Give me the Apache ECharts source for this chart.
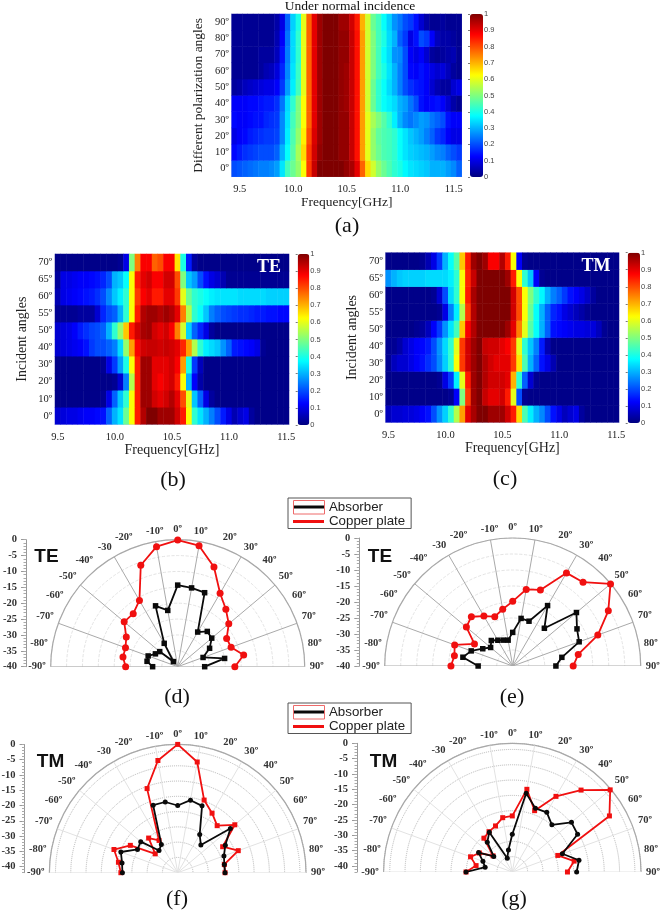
<!DOCTYPE html>
<html><head><meta charset="utf-8">
<style>html,body{margin:0;padding:0;background:#fff}#c{width:660px;height:914px;filter:blur(.45px)}</style>
<script src="https://cdn.jsdelivr.net/npm/echarts@6/dist/echarts.min.js"></script>
</head><body><div id="c"></div>
<script>
// ---------- heat map axes ----------
const freqA=['9.45','9.5','9.55','9.6','9.65','9.7','9.75','9.8','9.85','9.9','9.95','10.0','10.05','10.1','10.15','10.2','10.25','10.3','10.35','10.4','10.45','10.5','10.55','10.6','10.65','10.7','10.75','10.8','10.85','10.9','10.95','11.0','11.05','11.1','11.15','11.2','11.25','11.3','11.35','11.4','11.45','11.5','11.55'];
const freqB=['9.5','9.55','9.6','9.65','9.7','9.75','9.8','9.85','9.9','9.95','10.0','10.05','10.1','10.15','10.2','10.25','10.3','10.35','10.4','10.45','10.5','10.55','10.6','10.65','10.7','10.75','10.8','10.85','10.9','10.95','11.0','11.05','11.1','11.15','11.2','11.25','11.3','11.35','11.4','11.45','11.5'];
const freqTicks=['9.5','10.0','10.5','11.0','11.5'];
const polarAngles=['0º','10º','20º','30º','40º','50º','60º','70º','80º','90º'];
const incidentAngles=['0º','10º','20º','30º','40º','50º','55º','60º','65º','70º'];
const barTicks=[0,.1,.2,.3,.4,.5,.6,.7,.8,.9,1];

// ---------- panel (a) rows, bottom to top ----------
const a0=[.2,.21,.22,.23,.24,.25,.25,.26,.28,.35,.44,.48,.52,.62,.82,.93,1,1,1,1,1,.98,.96,.9,.78,.66,.58,.52,.48,.45,.42,.4,.37,.35,.34,.33,.32,.3,.3,.3,.28,.26,.22];
const a10=[.13,.15,.17,.18,.19,.2,.2,.2,.22,.3,.38,.46,.54,.66,.82,.92,.98,1,1,1,.98,.98,.93,.86,.72,.6,.52,.48,.45,.44,.42,.38,.35,.33,.32,.31,.3,.28,.26,.25,.22,.2,.18];
const a20=[.1,.12,.13,.15,.16,.17,.18,.18,.19,.26,.36,.45,.52,.64,.8,.91,.97,1,1,1,.98,.98,.93,.86,.72,.6,.52,.47,.45,.44,.42,.38,.35,.32,.3,.28,.25,.22,.18,.16,.12,.1,.1];
const a30=[.13,.12,.12,.13,.14,.14,.16,.17,.18,.26,.35,.44,.5,.62,.78,.9,.97,1,1,1,.98,.98,.93,.86,.72,.6,.54,.5,.46,.42,.36,.3,.26,.24,.26,.28,.27,.24,.22,.2,.14,.12,.12];
const a40=[.12,.12,.12,.13,.13,.14,.15,.15,.17,.24,.34,.42,.5,.62,.78,.9,.97,1,1,1,.98,.97,.93,.86,.72,.58,.48,.42,.38,.36,.34,.3,.28,.24,.2,.14,.12,.13,.14,.12,.08,.04,.02];
const a50=[.03,.04,.06,.07,.08,.09,.1,.1,.12,.18,.28,.36,.44,.6,.78,.9,.97,1,1,1,.98,.97,.93,.86,.72,.58,.48,.42,.38,.34,.3,.25,.2,.17,.15,.14,.12,.08,.05,.03,.03,.08,.1];
const a60=[.02,.02,.02,.02,.02,.03,.05,.06,.09,.16,.26,.35,.43,.6,.78,.9,.97,1,1,1,.98,.97,.93,.86,.72,.58,.5,.44,.4,.35,.3,.25,.2,.13,.12,.14,.12,.1,.08,.09,.06,.03,.02];
const a70=[.02,.02,.02,.02,.02,.03,.03,.03,.06,.14,.25,.34,.42,.6,.78,.9,.97,1,1,1,.98,.98,.93,.86,.72,.58,.5,.44,.38,.34,.27,.26,.2,.12,.1,.12,.08,.03,.02,.03,.04,.05,.02];
const a80=[.02,.02,.02,.02,.02,.02,.02,.02,.05,.12,.24,.34,.42,.6,.78,.9,.97,1,1,1,.98,.98,.93,.86,.72,.58,.5,.44,.4,.34,.3,.22,.18,.1,.14,.2,.18,.12,.06,.04,.04,.03,.02];
const a90=[.02,.02,.02,.02,.02,.02,.02,.02,.04,.1,.22,.33,.4,.6,.78,.9,.97,1,1,1,.97,.97,.92,.85,.7,.58,.48,.44,.38,.33,.27,.24,.2,.18,.14,.08,.04,.02,.02,.03,.02,.02,.02];
const heatA=[a0,a10,a20,a30,a40,a50,a60,a70,a80,a90];

// ---------- panel (b) rows, bottom to top ----------
const b0=[.08,.09,.1,.1,.11,.12,.12,.13,.14,.22,.3,.35,.48,.62,.85,.95,1,1,.97,.97,.97,.92,.85,.62,.42,.35,.3,.25,.2,.15,.1,.05,.08,.1,.03,.01,.01,.01,.01,.01,.01];
const b10=[.01,.01,.01,.01,.01,.01,.01,.01,.02,.1,.22,.32,.42,.62,.85,.97,.97,.92,.9,.92,.95,.9,.8,.6,.32,.22,.1,.03,.01,.01,.01,.01,.01,.01,.01,.01,.01,.01,.01,.01,.01];
const b20=[.01,.01,.01,.01,.01,.01,.01,.01,.01,.01,.02,.08,.25,.55,.85,.97,.97,.9,.88,.9,.92,.85,.62,.3,.12,.04,.01,.01,.01,.01,.01,.01,.01,.01,.01,.01,.01,.01,.01,.01,.01];
const b30=[.01,.01,.01,.01,.01,.01,.01,.01,.02,.1,.18,.28,.4,.62,.85,.97,.97,.9,.9,.9,.92,.88,.72,.4,.18,.06,.01,.01,.01,.01,.01,.01,.01,.01,.01,.01,.01,.01,.01,.01,.01];
const b40=[.08,.09,.1,.11,.12,.14,.18,.2,.2,.22,.25,.34,.52,.72,.88,.92,.93,.93,.92,.93,.92,.9,.84,.72,.55,.42,.36,.34,.32,.27,.22,.15,.14,.13,.12,.1,.02,.01,.01,.01,.01];
const b50=[.08,.09,.1,.12,.15,.17,.19,.2,.22,.3,.42,.52,.68,.85,.92,.96,.97,.92,.9,.92,.88,.75,.58,.33,.22,.16,.1,.03,.01,.01,.01,.01,.01,.01,.01,.01,.01,.01,.01,.01,.01];
const b55=[.02,.02,.02,.02,.03,.03,.03,.08,.16,.2,.22,.3,.42,.62,.85,.95,.97,.97,.95,.97,.95,.9,.75,.55,.42,.38,.32,.25,.22,.2,.19,.18,.17,.17,.16,.15,.15,.14,.14,.13,.13];
const b60=[.05,.1,.11,.12,.13,.14,.15,.17,.2,.26,.32,.36,.42,.62,.82,.88,.9,.85,.85,.9,.9,.82,.6,.48,.42,.4,.38,.36,.35,.35,.35,.35,.34,.34,.34,.34,.34,.33,.33,.33,.33];
const b65=[.03,.1,.1,.11,.12,.12,.13,.14,.16,.2,.3,.32,.38,.62,.85,.9,.92,.88,.88,.92,.92,.8,.5,.32,.28,.2,.14,.1,.08,.05,.02,.02,.02,.02,.02,.02,.02,.02,.02,.02,.02];
const b70=[.01,.01,.01,.01,.01,.01,.01,.01,.01,.01,.01,.02,.1,.5,.75,.88,.88,.78,.8,.88,.88,.65,.4,.15,.03,.01,.01,.01,.01,.01,.01,.01,.01,.01,.01,.01,.01,.01,.01,.01,.01];
const heatB=[b0,b10,b20,b30,b40,b50,b55,b60,b65,b70];

// ---------- panel (c) rows, bottom to top ----------
const c0=[.06,.08,.08,.09,.09,.1,.12,.14,.2,.27,.33,.42,.55,.72,.9,.96,1,1,.97,.97,.97,.92,.85,.66,.45,.36,.3,.26,.2,.14,.1,.06,.08,.1,.03,.01,.01,.01,.01,.01,.01];
const c10=[.01,.01,.01,.01,.01,.01,.01,.01,.01,.01,.01,.02,.12,.5,.82,.97,1,.93,.9,.9,.92,.85,.6,.2,.02,.01,.01,.01,.01,.01,.01,.01,.01,.01,.01,.01,.01,.01,.01,.01,.01];
const c20=[.01,.01,.01,.01,.01,.01,.01,.01,.01,.02,.1,.18,.36,.6,.85,.97,1,.95,.92,.92,.92,.9,.7,.42,.22,.08,.02,.01,.01,.01,.01,.01,.01,.01,.01,.01,.01,.01,.01,.01,.01];
const c30=[.02,.06,.08,.08,.1,.12,.14,.17,.2,.26,.33,.42,.62,.82,.92,.97,1,.95,.92,.9,.9,.9,.82,.65,.45,.3,.22,.14,.1,.05,.01,.01,.01,.01,.01,.01,.01,.01,.01,.01,.01];
const c40=[.02,.02,.04,.08,.1,.12,.13,.15,.2,.27,.34,.42,.6,.82,.92,.97,1,.93,.92,.92,.9,.88,.82,.6,.42,.32,.25,.15,.05,.01,.01,.01,.01,.01,.01,.01,.01,.01,.01,.01,.01];
const c50=[.01,.01,.01,.01,.01,.02,.03,.06,.12,.18,.27,.35,.44,.68,.88,.95,1,1,1,1,1,.97,.9,.75,.6,.46,.38,.3,.22,.14,.13,.12,.11,.1,.1,.09,.09,.06,.02,.01,.01];
const c55=[.01,.01,.01,.01,.01,.01,.01,.01,.01,.02,.1,.25,.36,.55,.82,.95,1,1,1,1,1,1,.92,.8,.62,.48,.38,.3,.22,.16,.14,.1,.08,.06,.04,.02,.01,.01,.01,.01,.01];
const c60=[.01,.01,.01,.01,.01,.01,.01,.01,.02,.08,.2,.34,.42,.62,.85,.96,1,1,1,1,1,1,.92,.8,.62,.5,.42,.37,.3,.25,.22,.18,.14,.12,.1,.07,.03,.01,.01,.01,.01];
const c65=[.27,.3,.32,.33,.33,.33,.33,.34,.34,.34,.34,.36,.42,.62,.84,.93,1,1,1,1,1,.97,.85,.62,.42,.32,.12,.02,.01,.01,.01,.01,.01,.01,.01,.01,.01,.01,.01,.01,.01];
const c70=[.01,.01,.01,.01,.01,.01,.02,.05,.1,.18,.3,.38,.46,.68,.85,.97,1,.97,.88,.88,.95,.85,.62,.12,.02,.01,.01,.01,.01,.01,.01,.01,.01,.01,.01,.01,.01,.01,.01,.01,.01];
const heatC=[c0,c10,c20,c30,c40,c50,c55,c60,c65,c70];

// ---------- polar data, angle -90 .. 90 ----------
const angleDeg=[-90,-80,-70,-60,-50,-40,-30,-20,-10,0,10,20,30,40,50,60,70,80,90];
const spokeDeg=[-90,-70,-50,-30,-10,10,30,50,70,90];
const angleText={'-90':'-90º','-80':'-80º','-70':'-70º','-60':'-60º','-50':'-50º','-40':'-40º','-30':'-30','-20':'-20º','-10':'-10º','0':'0º','10':'10º','20':'20º','30':'30º','40':'40º','50':'50º','60':'60º','70':'70º','80':'80º','90':'90º'};
const scaleLabels=[0,-5,-10,-15,-20,-25,-30,-35,-40];
const scaleMinor=[0,-1,-2,-3,-4,-5,-6,-7,-8,-9,-10,-11,-12,-13,-14,-15,-16,-17,-18,-19,-20,-21,-22,-23,-24,-25,-26,-27,-28,-29,-30,-31,-32,-33,-34,-35,-36,-37,-38,-39,-40,-41,-42];
const dRed=[-23.6,-22.5,-22.5,-21.3,-18,-18.2,-15.9,-6,-1.6,-.1,-1.3,-6.6,-13.3,-16.4,-19,-22.2,-22.1,-18.9,-22];
const dBlack=[-32.1,-30.2,-30.1,-31.9,-32.6,-37.9,-31.5,-19.6,-22,-14.3,-14.8,-15.2,-27.4,-25.5,-26,-28.4,-31.5,-25,-31.5];
const eRed=[-20.7,-21.5,-20.7,-26.2,-21.1,-19.9,-22,-23.6,-22,-19.8,-15.7,-14.7,-6.4,-5.8,-.1,-5.5,-11.7,-19.2,-21.1];
const eBlack=[-29.2,-24.2,-26.2,-29.2,-31,-29.6,-30.7,-31.4,-31.8,-29.5,-24.9,-25.1,-18.2,-24.6,-14,-16.8,-17.9,-24.4,-26.5];
const fRed=[-23.4,-22.3,-19.8,-24.1,-32.4,-27.2,-29.8,-12.7,-4.7,0,-5.2,-16.7,-19.5,-21.9,-17.6,-25,-20.9,-26.5,-26.5];
const fBlack=[-23.9,-23.5,-22.2,-26.8,-26.2,-32.5,-31.3,-18.5,-18.5,-20,-17.9,-18.7,-27.6,-30.2,-19.5,-24,-25.9,-26.5,-26.5];
const gRed=[-26.9,-30,-27.5,-29.6,-33.8,-27.6,-26.8,-26,-24,-23.7,-14.6,-20.7,-13.5,-7.1,-.3,-5.4,-26.2,-21.5,-24];
const gBlack=[-26.9,-33,-31.8,-29.3,-34.1,-29.3,-27,-37.2,-34.7,-29.7,-15.9,-19.9,-19.5,-21.9,-16.8,-17.4,-24.6,-19.9,-21];

// ---------- styling ----------
const SERIF='"Liberation Serif","Times New Roman",serif', SANS='"Liberation Sans",Arial,sans-serif';
const JET=['#00007f','#0000ff','#007fff','#00ffff','#7fff7f','#ffff00','#ff7f00','#ff0000','#7f0000'];
const FRAME='#c6cbea';
const grid=[],xAxis=[],yAxis=[],series=[],visualMap=[],polar=[],angleAxis=[],radiusAxis=[],title=[];

function heat(rows,freq,cats,box,bar,xName,yName,xGap,yGap,xShift,nameSize){
  const gi=grid.length;
  grid.push({left:box[0],top:box[1],width:box[2],height:box[3]});
  xAxis.push({gridIndex:gi,type:'category',data:freq,
    axisTick:{show:false},axisLine:{lineStyle:{color:FRAME}},
    axisLabel:{interval:(i,v)=>freqTicks.includes(v),fontFamily:SERIF,fontSize:10.5,color:'#222',margin:7},
    name:xName,nameLocation:'middle',nameGap:xGap,
    nameTextStyle:{fontFamily:SERIF,fontSize:nameSize||14,color:'#222',padding:[0,0,0,xShift||0]}});
  yAxis.push({gridIndex:gi,type:'category',data:cats,
    axisTick:{show:false},axisLine:{lineStyle:{color:FRAME}},
    axisLabel:{interval:0,fontFamily:SERIF,fontSize:10.5,color:'#222',margin:3},
    name:yName,nameLocation:'middle',nameGap:yGap,
    nameTextStyle:{fontFamily:SERIF,fontSize:nameSize||14,color:'#222'}});
  const data=[];
  rows.forEach((row,r)=>row.forEach((v,c)=>data.push([c,r,v])));
  const si=series.length;
  series.push({type:'heatmap',xAxisIndex:gi,yAxisIndex:gi,data,silent:true,progressive:0});
  visualMap.push({type:'continuous',min:0,max:1,seriesIndex:si,inRange:{color:JET},calculable:false,
    left:bar[0],top:bar[1],itemWidth:bar[2],itemHeight:bar[3],padding:0,text:null,showLabel:false,
    borderWidth:0});
  // colour bar scale
  const bi=grid.length;
  grid.push({left:bar[0],top:bar[1],width:bar[2],height:bar[3]});
  xAxis.push({gridIndex:bi,type:'value',show:false,min:0,max:1});
  yAxis.push({gridIndex:bi,type:'value',min:0,max:1,position:'right',z:6,interval:.1,
    axisLine:{show:false},splitLine:{show:false},
    axisTick:{show:true,inside:true,length:2,lineStyle:{color:'#222',width:.6}},
    axisLabel:{customValues:barTicks,fontFamily:SANS,fontSize:7.5,color:'#444',margin:1}});
}
heat(heatA,freqA,polarAngles,[231.7,14,230,162.7],[470,14,13,163],'Frequency[GHz]','Different polarization angles',16,26,0,13.5);
heat(heatB,freqB,incidentAngles,[55,254,234,170.3],[297.7,254,11.6,171],'Frequency[GHz]','Incident angles',16,26);
heat(heatC,freqB,incidentAngles,[385.7,252.7,233.3,169.6],[627.7,252.7,12.3,170.3],'Frequency[GHz]','Incident angles',14,26,20);

function polarPanel(cx,cy,R,rMin,scaleX,red,black,redSym,blackSym,spokeStyle,ringStyle){
  const pi=polar.length;
  polar.push({center:[cx,cy],radius:[0,R]});
  angleAxis.push({polarIndex:pi,type:'value',min:-90,max:90,interval:10,startAngle:180,endAngle:0,clockwise:true,
    axisLine:{lineStyle:{color:'#a8a8a8',width:1.2}},axisTick:{show:false},splitLine:{show:false},
    axisLabel:{margin:5,fontFamily:SERIF,fontSize:10.5,fontWeight:'bold',color:'#333',formatter:v=>angleText[v]}});
  radiusAxis.push({polarIndex:pi,type:'value',min:rMin,max:0,interval:5,
    axisLine:{show:false},axisTick:{show:false},axisLabel:{show:false},
    splitLine:{show:true,lineStyle:ringStyle}});
  const spokes=[];
  spokeDeg.forEach(a=>{spokes.push([rMin,a],[0,a],['-','-']);});
  series.push({name:'spokes',type:'line',coordinateSystem:'polar',polarIndex:pi,data:spokes,symbol:'none',silent:true,
    lineStyle:spokeStyle,z:1});
  const pairs=v=>v.map((d,i)=>[d,angleDeg[i]]);
  series.push({name:'Copper plate',type:'line',coordinateSystem:'polar',polarIndex:pi,data:pairs(red),
    symbol:redSym[0],symbolSize:redSym[1],itemStyle:{color:'#f01010'},lineStyle:{color:'#f01010',width:1.8},z:3});
  series.push({name:'Absorber',type:'line',coordinateSystem:'polar',polarIndex:pi,data:pairs(black),
    symbol:blackSym[0],symbolSize:blackSym[1],itemStyle:{color:'#0a0a0a'},lineStyle:{color:'#0a0a0a',width:1.8},z:4});
  // left dB scale
  const gi=grid.length;
  grid.push({left:scaleX,top:cy-R,width:1,height:R});
  xAxis.push({gridIndex:gi,type:'value',show:false,min:0,max:1});
  xAxis.push({gridIndex:gi,type:'value',show:false,min:0,max:1});
  yAxis.push({gridIndex:gi,type:'value',min:rMin,max:0,interval:5,splitLine:{show:false},
    axisLine:{lineStyle:{color:'#999'}},
    axisTick:{customValues:scaleLabels,length:5,lineStyle:{color:'#999'}},
    axisLabel:{customValues:scaleLabels,fontFamily:SERIF,fontSize:10.5,fontWeight:'bold',color:'#333',margin:9}});
  yAxis.push({gridIndex:gi,type:'value',min:rMin,max:0,interval:5,position:'left',splitLine:{show:false},
    axisLine:{show:false},axisLabel:{show:false},
    axisTick:{customValues:scaleMinor.filter(v=>v>=rMin),length:2.5,lineStyle:{color:'#aaa'}}});
}
const solid={color:'#a9a9a9',width:1};
const faint={color:'#e2e2e2',width:1};
const ringLight={color:'#dcdcdc',type:'dashed',width:.8};
const ringDark={color:'#b5b5b5',type:'dotted',width:1};
polarPanel(177.7,666.7,127,-40,25.7,dRed,dBlack,['circle',7],['rect',5.5],solid,ringLight);
polarPanel(512.7,666,128,-40,359.3,eRed,eBlack,['circle',7],['rect',5.5],solid,ringLight);
polarPanel(177.7,872.7,128.3,-42,23.5,fRed,fBlack,['rect',5],['circle',5],faint,ringDark);
polarPanel(512.3,872,128.7,-42,357,gRed,gBlack,['rect',5],['circle',5],faint,ringDark);

// text
function txt(text,x,y,size,family,weight,color){
  title.push({text,left:x,top:y,textAlign:'center',padding:0,
    textStyle:{fontFamily:family,fontSize:size,fontWeight:weight||'normal',color:color||'#111'}});
}
txt('Under normal incidence',350,-1,13.5,SERIF);
txt('(a)',347,215,22,SERIF);
txt('(b)',173,469,22,SERIF);
txt('(c)',505,468,22,SERIF);
txt('(d)',177,686,22,SERIF);
txt('(e)',512,686,22,SERIF);
txt('(f)',177,888,22,SERIF);
txt('(g)',514,888,22,SERIF);
txt('TE',269,258,18,SERIF,'bold','#fff');
txt('TM',596,257,18,SERIF,'bold','#fff');
txt('TE',46.5,547,19,SANS,'bold','#111');
txt('TE',380,547,19,SANS,'bold','#111');
txt('TM',50.5,752,19,SANS,'bold','#111');
txt('TM',383.5,752,19,SANS,'bold','#111');

const legendNames=[{name:'Absorber',icon:'rect'},{name:'Copper plate',icon:'rect'}];
function legendAt(top){
  return {left:288,top,orient:'vertical',data:legendNames,itemWidth:31,itemHeight:3,itemGap:1.5,
    padding:[2.5,6,.5,5],borderColor:'#555',borderWidth:1,backgroundColor:'#fff',selectedMode:false,
    textStyle:{fontFamily:SANS,fontSize:13.3,color:'#222'}};
}
const legend=[legendAt(498),legendAt(703)];
const boxes=[500,705].map(y=>({type:'rect',left:293,top:y,shape:{width:31,height:13.5},
  style:{fill:'transparent',stroke:'#ee6a6a',lineWidth:1},silent:true,z:100}));

const chart=echarts.init(document.getElementById('c'),null,{renderer:'canvas'});
chart.setOption({animation:false,backgroundColor:'#fff',title,legend,grid,xAxis,yAxis,polar,angleAxis,radiusAxis,visualMap,series,graphic:boxes});
</script></body></html>
